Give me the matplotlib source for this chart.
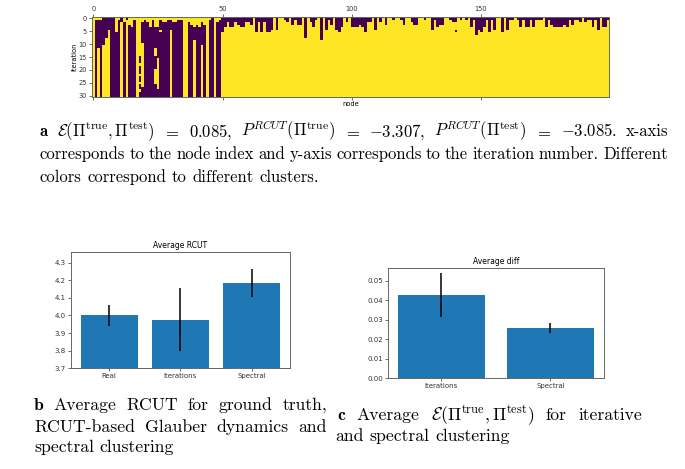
import numpy as np
import matplotlib.pyplot as plt

plt.rcParams['mathtext.fontset'] = 'cm'

W, H = 685, 469
n_iter = 31

# nodes 0-49, one string per node (top row first), 1 = yellow cluster;
# the last char carries on down to iteration 30
cols_a = ["1", "10", "1000000000001", "10", "000000000001", "000000001", "000001",
          "0", "0", "1111110", "10", "001", "110", "01", "1110", "11110", "10", "1",
          "1111111111111110001000100100100", "1100000000111111111111111110000",
          "10", "110", "11110", "10", "1111000000001110000011111100",
          "111100000000000011111111111100", "1000010", "110", "110", "10", "100001",
          "110", "110", "10", "10", "1", "1", "110", "1110", "1111000001", "1110",
          "11110", "110000000001", "1110", "1", "10", "0", "1", "110", "10"]

# nodes 50-199: number of iterations (from the top) still in the purple cluster
depth_b = [6, 4, 2, 4, 4, 2, 3, 4, 4, 2,
           2, 3, 0, 6, 2, 6, 2, 6, 6, 5,
           0, 5, 0, 0, 1, 2, 0, 3, 1, 3,
           3, 0, 8, 0, 2, 4, 1, 0, 9, 0,
           5, 1, 3, 0, 5, 6, 4, 0, 2, 0,
           4, 4, 4, 3, 4, 6, 2, 2, 0, 5,
           0, 2, 0, 3, 0, 0, 1, 0, 0, 1,
           3, 0, 0, 2, 3, 3, 0, 0, 1, 0,
           0, 5, 1, 4, 3, 3, 0, 0, 1, 2,
           2, 0, 1, 0, 1, 0, 4, 1, 7, 5,
           6, 4, 1, 6, 1, 5, 0, 0, 6, 0,
           5, 1, 1, 0, 1, 4, 1, 4, 4, 1,
           4, 1, 1, 1, 0, 4, 1, 3, 4, 4,
           4, 4, 3, 4, 1, 3, 1, 1, 2, 0,
           2, 1, 1, 4, 1, 5, 0, 4, 4, 1]
spots_b = [(140, 5)]  # (node, iteration) purple dots below the top block

rcut_labels = ['Real', 'Iterations', 'Spectral']
rcut_mean = [4.0, 3.975, 4.186]
rcut_err = [0.06, 0.178, 0.08]

diff_labels = ['Iterations', 'Spectral']
diff_mean = [0.0426, 0.0259]
diff_err = [0.0112, 0.0026]

# cluster matrix: rows = iterations, columns = nodes
M = np.ones((n_iter, len(cols_a) + len(depth_b)))
for j, s in enumerate(cols_a):
    s = (s + s[-1] * n_iter)[:n_iter]
    M[:, j] = [int(c) for c in s]
for k, d in enumerate(depth_b):
    M[:d, len(cols_a) + k] = 0
for j, i in spots_b:
    M[i, j] = 0

fig = plt.figure(figsize=(6.85, 4.69), dpi=100)


def box(l, t, r, b):
    return [l / W, 1 - b / H, (r - l) / W, (b - t) / H]


def style(ax, size):
    ax.tick_params(labelsize=size, length=2, width=0.5, pad=1.5, colors='#333333')
    for s in ax.spines.values():
        s.set_linewidth(0.7)
        s.set_color('#666666')


# a: heatmap
ax = fig.add_axes(box(92, 17, 609, 97))
ax.matshow(M, cmap='viridis', aspect='auto', interpolation='nearest')
ax.set_xticks([0, 50, 100, 150])
ax.set_yticks(range(0, 31, 5))
ax.set_xlabel('node', fontsize=4.8, labelpad=1)
ax.set_ylabel('iteration', fontsize=4.8, labelpad=1)
style(ax, 4.8)

# b: average RCUT
ax1 = fig.add_axes(box(70.7, 252, 290, 368.3))
ax1.bar(range(3), rcut_mean, yerr=rcut_err, color='#1f77b4', ecolor='black',
        error_kw=dict(lw=1.1))
ax1.set_xticks(range(3), rcut_labels)
ax1.set_ylim(3.7, 4.36)
ax1.set_title('Average RCUT', fontsize=5.5, pad=3)
style(ax1, 5)

# c: average diff
ax2 = fig.add_axes(box(387.7, 268, 604, 378.3))
ax2.bar(range(2), diff_mean, yerr=diff_err, color='#1f77b4', ecolor='black',
        error_kw=dict(lw=1.1))
ax2.set_xticks(range(2), diff_labels)
ax2.set_title('Average diff', fontsize=5.5, pad=3)
style(ax2, 5)

# captions, justified between x0 and x1 like the LaTeX source
rend = fig.canvas.get_renderer()


def line(tokens, x0, y, size, x1=None):
    ts = []
    for tok in tokens:
        s, fam = tok if isinstance(tok, tuple) else (tok, 'cmr10')
        ts.append(fig.text(0, 1 - y / H, s, family=fam, fontsize=size, va='baseline'))
    ws = [t.get_window_extent(rend).width for t in ts]
    gap = size * 100 / 72 * 0.333
    if x1 is not None and len(ts) > 1:
        gap = max((x1 - x0 - sum(ws)) / (len(ts) - 1), 3)
    x = x0
    for t, w in zip(ts, ws):
        t.set_x(x / W)
        x += w + gap


fa = 12.0
line([('a', 'cmb10'), r'$\mathcal{E}(\Pi^{\mathrm{true}},\Pi^{\mathrm{test}})$', '$=$', '$0.085,$',
      r'$P^{RCUT}(\Pi^{\mathrm{true}})$', '$=$', '$-3.307,$',
      r'$P^{RCUT}(\Pi^{\mathrm{test}})$', '$=$', '$-3.085.$', 'x-axis'], 40, 136, fa, 668)
line('corresponds to the node index and y-axis corresponds to the iteration number. Different'.split(),
     40, 159, fa, 668)
line('colors correspond to different clusters.'.split(), 40, 182, fa)

fb = 12.7
line([('b', 'cmb10'), 'Average', 'RCUT', 'for', 'ground', 'truth,'], 34, 410, fb, 327)
line(['RCUT-based', 'Glauber', 'dynamics', 'and'], 34, 431.5, fb, 327)
line(['spectral', 'clustering'], 34, 451.5, fb)

line([('c', 'cmb10'), 'Average', r'$\mathcal{E}(\Pi^{\mathrm{true}},\Pi^{\mathrm{test}})$',
      'for', 'iterative'], 337, 420, fb, 642)
line(['and', 'spectral', 'clustering'], 335, 440.5, fb)

fig.savefig('out.png', dpi=100)
